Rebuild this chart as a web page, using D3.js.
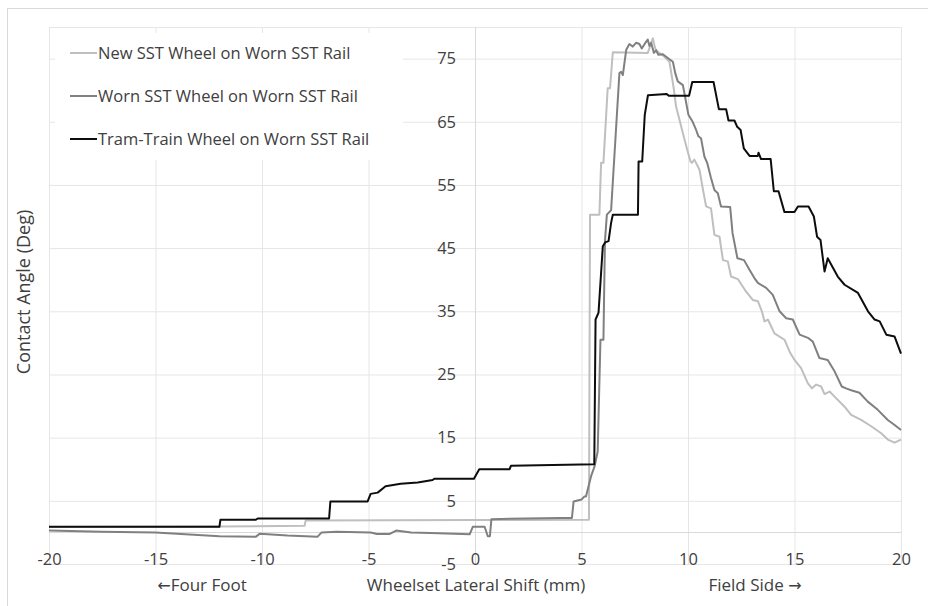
<!DOCTYPE html>
<html>
<head>
<meta charset="utf-8">
<script src="https://cdn.jsdelivr.net/npm/d3@7"></script>
<style>
  body { margin: 0; background: #fff; }
  text { font-family: "Open Sans", sans-serif; fill: #404040; }
</style>
</head>
<body>
<div id="my_dataviz"></div>
<script>
// tick values
const xTicks = [-20, -15, -10, -5, 0, 5, 10, 15, 20];
const yTicks = [-5, 5, 15, 25, 35, 45, 55, 65, 75];

const seriesNames = ["New SST Wheel on Worn SST Rail", "Worn SST Wheel on Worn SST Rail", "Tram-Train Wheel on Worn SST Rail"];
const seriesColors = ["#bfbfbf", "#808080", "#0d0d0d"];

// [lateral shift (mm), contact angle (deg)]
const newSST = [[-20, 0.85], [-12, 0.95], [-8.0, 1.05], [-7.95, 1.9], [0, 1.95], [5.35, 2.0], [5.4, 50.3], [5.84, 50.3],
  [5.92, 58.5], [6.03, 58.5], [6.23, 70.3], [6.34, 70.3], [6.47, 76.0], [8.11, 75.9], [8.35, 78.2], [8.46, 76.6],
  [8.57, 76.1], [8.89, 75.3], [9.13, 74.5], [9.33, 70.3], [9.44, 67.4], [9.6, 65.3], [9.76, 63.2], [9.96, 60.6],
  [10.12, 58.7], [10.18, 58.5], [10.3, 59.0], [10.54, 57.4], [10.69, 54.5], [10.85, 51.6], [11.08, 51.3], [11.24, 47.1],
  [11.48, 46.8], [11.64, 43.1], [11.87, 42.9], [12.02, 40.5], [12.34, 40.1], [12.73, 38.1], [13.04, 36.8], [13.28, 36.6],
  [13.47, 35.0], [13.59, 33.4], [13.75, 33.7], [14.06, 31.5], [14.53, 30.5], [14.77, 28.6], [15.0, 27.3], [15.31, 26.0],
  [15.63, 23.6], [15.82, 22.8], [16.02, 23.4], [16.25, 23.1], [16.41, 21.9], [16.65, 22.3], [16.88, 21.5], [17.35, 19.9],
  [17.66, 18.6], [18.13, 17.8], [18.6, 16.8], [19.07, 15.7], [19.38, 14.7], [19.7, 14.2], [20, 14.7]];

const wornSST = [[-20, 0.3], [-17.5, 0.1], [-15, 0.0], [-12, -0.6], [-10.3, -0.7], [-10.1, -0.2], [-8.8, -0.5], [-7.4, -0.7],
  [-7.2, 0.0], [-6.5, 0.1], [-4.9, 0.0], [-4.6, -0.25], [-4.0, -0.25], [-3.7, 0.3], [-3.0, 0.0], [-2.1, -0.1],
  [-0.25, -0.3], [-0.1, 0.9], [0.45, 0.9], [0.6, -0.6], [0.7, -0.6], [0.77, 2.1], [4.03, 2.3], [4.55, 2.3],
  [4.63, 4.9], [5.0, 5.2], [5.14, 5.7], [5.21, 5.7], [5.45, 8.9], [5.61, 10.4], [5.76, 12.8], [5.89, 30.5],
  [6.03, 30.5], [6.1, 46], [6.19, 50.3], [6.39, 51], [6.78, 72.7], [6.86, 72.9], [6.94, 72.4], [7.1, 76.4],
  [7.25, 77.3], [7.4, 76.9], [7.56, 77.5], [7.72, 77.3], [7.83, 76.6], [7.98, 77.4], [8.11, 78.0], [8.19, 77.0],
  [8.27, 77.5], [8.4, 75.9], [8.5, 76.3], [8.61, 75.6], [8.82, 75.7], [9.05, 75.1], [9.29, 74.5], [9.4, 72.7],
  [9.52, 71.4], [9.76, 70.8], [9.86, 69.0], [10.02, 66.1], [10.22, 65.0], [10.38, 63.7], [10.49, 62.7], [10.61, 62.4],
  [10.77, 59.5], [10.9, 58.5], [11.08, 56.1], [11.24, 54.2], [11.4, 53.7], [11.55, 51.6], [11.98, 51.5], [12.09, 47.4],
  [12.32, 43.4], [12.63, 43.1], [12.88, 41.6], [13.11, 40.3], [13.28, 39.5], [13.67, 38.7], [13.98, 37.6], [14.3, 35.0],
  [14.61, 33.9], [14.92, 33.7], [15.24, 31.3], [15.63, 30.8], [15.86, 30.2], [16.17, 27.6], [16.56, 27.3], [16.88, 25.5],
  [17.22, 23.1], [17.42, 22.8], [17.66, 22.5], [18.05, 22.1], [18.44, 20.7], [18.91, 19.4], [19.38, 17.8], [19.7, 17.0],
  [20, 16.2]];

const tramTrain = [[-20, 0.9], [-12.0, 0.9], [-11.95, 2.0], [-10.3, 2.0], [-10.2, 2.2], [-6.85, 2.2], [-6.79, 4.9], [-5.04, 4.9],
  [-4.9, 6.1], [-4.57, 6.3], [-4.2, 7.3], [-3.49, 7.7], [-2.69, 7.9], [-1.99, 8.3], [-1.91, 8.5], [-0.05, 8.5],
  [0.2, 10.0], [1.62, 10.0], [1.69, 10.55], [5.6, 10.8], [5.66, 33.7], [5.8, 34.8], [6.0, 45.3], [6.11, 45.9],
  [6.27, 46.1], [6.39, 49], [6.47, 50.3], [7.65, 50.3], [7.68, 58.7], [7.85, 58.7], [7.97, 66.1], [8.12, 69.2],
  [9.0, 69.4], [9.1, 69.1], [10.05, 69.1], [10.2, 71.3], [11.2, 71.3], [11.45, 67.0], [11.79, 67.0], [11.9, 65.2],
  [12.18, 65.2], [12.31, 64.2], [12.47, 63.7], [12.62, 60.8], [12.89, 59.6], [13.28, 59.6], [13.31, 60.1], [13.43, 59.1],
  [13.88, 59.1], [14.03, 54.0], [14.25, 54.0], [14.53, 50.7], [15.0, 50.7], [15.16, 51.6], [15.66, 51.6], [15.91, 50.0],
  [16.06, 46.8], [16.22, 46.3], [16.41, 41.3], [16.56, 43.4], [17.03, 40.5], [17.35, 39.2], [17.98, 37.9], [18.45, 35.0],
  [18.76, 33.7], [19.0, 33.4], [19.31, 31.3], [19.7, 31.0], [20, 28.3]];

const allSeries = [newSST, wornSST, tramTrain];

// plot box inside the 928x606 frame
const margin = {top: 27, right: 27, bottom: 42, left: 49},
    width = 928 - margin.left - margin.right,
    height = 606 - margin.top - margin.bottom;

const svg = d3.select("#my_dataviz")
  .append("svg")
    .attr("width", 928)
    .attr("height", 606);

// light outer chart border
svg.append("rect")
  .attr("x", 7.5).attr("y", 8.5)
  .attr("width", 1000).attr("height", 1000)
  .attr("fill", "none")
  .attr("stroke", "#d9d9d9");

const g = svg.append("g")
  .attr("transform", `translate(${margin.left},${margin.top})`);

const x = d3.scaleLinear()
  .domain([-20, 20])
  .range([0, width]);

const y = d3.scaleLinear()
  .domain([-5, 80])
  .range([height, 0]);

// plain hyphen minus like the original
const fmt = d => String(d);

// gridlines
g.append("g")
  .call(d3.axisBottom(x).tickValues(xTicks).tickSize(height).tickFormat(""))
  .call(a => a.select(".domain").remove())
  .selectAll("line").attr("stroke", "#e6e6e6");

g.append("g")
  .call(d3.axisLeft(y).tickValues(yTicks.concat([80])).tickSize(-width).tickFormat(""))
  .call(a => a.select(".domain").remove())
  .selectAll("line").attr("stroke", "#e6e6e6");

// axis lines crossing at zero
g.append("line")
  .attr("x1", 0).attr("x2", width)
  .attr("y1", Math.round(y(0)) + 0.5).attr("y2", Math.round(y(0)) + 0.5)
  .attr("stroke", "#d9d9d9");
g.append("line")
  .attr("x1", Math.round(x(0)) + 0.5).attr("x2", Math.round(x(0)) + 0.5)
  .attr("y1", 0).attr("y2", height)
  .attr("stroke", "#d9d9d9");

// tick labels
g.append("g")
  .attr("transform", `translate(0, ${height - 11})`)
  .call(d3.axisBottom(x).tickValues(xTicks).tickSize(0).tickPadding(0).tickFormat(fmt))
  .call(a => a.select(".domain").remove())
  .selectAll("text")
    .style("font-size", "16.5px")
    .attr("fill", "#404040");

g.append("g")
  .attr("transform", `translate(${x(0) - 19}, 0)`)
  .call(d3.axisLeft(y).tickValues(yTicks).tickSize(0).tickPadding(0).tickFormat(fmt))
  .call(a => a.select(".domain").remove())
  .selectAll("text")
    .style("font-size", "16.5px")
    .attr("fill", "#404040");

// axis titles
svg.append("text")
  .attr("x", 476).attr("y", 591)
  .attr("text-anchor", "middle")
  .style("font-size", "17px")
  .text("Wheelset Lateral Shift (mm)");

const leftNote = svg.append("text")
  .attr("x", 202).attr("y", 591)
  .attr("text-anchor", "middle")
  .style("font-size", "17px");
leftNote.append("tspan").style("font-family", "DejaVu Sans").style("font-size", "16px").text("\u2190");
leftNote.append("tspan").text("Four Foot");

const rightNote = svg.append("text")
  .attr("x", 755).attr("y", 591)
  .attr("text-anchor", "middle")
  .style("font-size", "17px");
rightNote.append("tspan").text("Field Side ");
rightNote.append("tspan").style("font-family", "DejaVu Sans").style("font-size", "16px").text("\u2192");

svg.append("text")
  .attr("transform", "translate(30, 292) rotate(-90)")
  .attr("text-anchor", "middle")
  .style("font-size", "18px")
  .text("Contact Angle (Deg)");

// the three curves
const line = d3.line()
  .x(d => x(d[0]))
  .y(d => y(d[1]));

g.append("g")
  .selectAll("path")
  .data(allSeries)
  .join("path")
    .attr("d", line)
    .attr("fill", "none")
    .attr("stroke", (d, i) => seriesColors[i])
    .attr("stroke-width", 2)
    .attr("stroke-linejoin", "round");

// legend on a white box
svg.append("rect")
  .attr("x", 55).attr("y", 33)
  .attr("width", 348).attr("height", 127)
  .attr("fill", "#fff");

const legend = svg.append("g")
  .selectAll("g")
  .data(seriesNames)
  .join("g")
    .attr("transform", (d, i) => `translate(70, ${53 + i * 43})`);

legend.append("line")
  .attr("x1", 0).attr("x2", 27)
  .attr("stroke", (d, i) => seriesColors[i])
  .attr("stroke-width", 2);

legend.append("text")
  .attr("x", 28)
  .attr("dy", "0.35em")
  .style("font-size", "16.5px")
  .text(d => d);
</script>
</body>
</html>
